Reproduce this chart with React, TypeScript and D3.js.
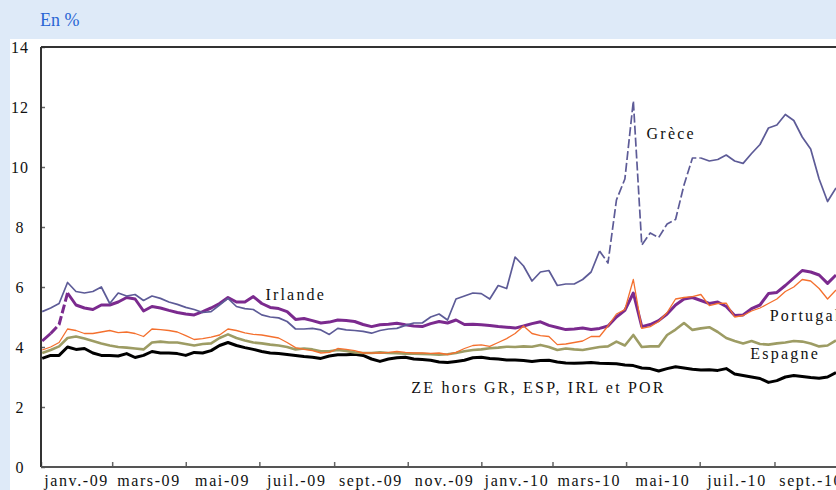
import React, { useEffect, useRef } from 'react';
import * as d3 from 'd3';

// weekly observations, first one on 2 Jan 2009
const START = new Date(2009, 0, 2);
const N_WEEKS = 95;

const grece = [
  5.18, 5.3, 5.45, 6.15, 5.85, 5.8, 5.85, 6.0, 5.45, 5.8,
  5.7, 5.75, 5.55, 5.7, 5.62, 5.5, 5.42, 5.32, 5.25, 5.15,
  5.18, 5.4, 5.62, 5.35, 5.28, 5.25, 5.07, 5.0, 4.97, 4.85,
  4.6, 4.6, 4.62, 4.57, 4.42, 4.62, 4.57, 4.55, 4.52, 4.46,
  4.55, 4.6, 4.62, 4.72, 4.8, 4.8, 5.0, 5.1, 4.9, 5.6,
  5.7, 5.8, 5.78, 5.6, 6.05, 5.95, 7.0, 6.7, 6.2, 6.5,
  6.55, 6.05, 6.1, 6.1, 6.25, 6.5, 7.2, 6.8, 8.9, 9.6,
  12.2, 7.4, 7.8, 7.65, 8.1, 8.25, 9.4, 10.3, 10.3, 10.2,
  10.25, 10.4, 10.2, 10.12, 10.45, 10.75, 11.3, 11.4, 11.75, 11.55,
  11.0, 10.6, 9.6, 8.85, 9.3,
];

const irlande = [
  4.2, 4.45, 4.75, 5.8, 5.4, 5.3, 5.25, 5.4, 5.4, 5.5,
  5.65, 5.6, 5.2, 5.35, 5.3, 5.22, 5.15, 5.1, 5.07, 5.18,
  5.3, 5.45, 5.65, 5.5, 5.5, 5.68, 5.45, 5.32, 5.28, 5.18,
  4.92, 4.95, 4.88, 4.8, 4.83, 4.9, 4.88, 4.85, 4.75, 4.68,
  4.74, 4.76, 4.79, 4.74, 4.7, 4.68, 4.78, 4.85, 4.8, 4.9,
  4.75, 4.76, 4.74, 4.72, 4.68, 4.66, 4.63, 4.7, 4.78, 4.84,
  4.72, 4.65, 4.58, 4.6, 4.63, 4.58, 4.62, 4.7, 5.0, 5.22,
  5.8, 4.68, 4.75, 4.88, 5.1, 5.4, 5.6, 5.65, 5.55, 5.45,
  5.5, 5.35, 5.05, 5.07, 5.28, 5.4, 5.78, 5.82, 6.05, 6.3,
  6.55, 6.5, 6.4, 6.12, 6.4,
];

const portugal = [
  3.9, 4.0, 4.15, 4.6, 4.55, 4.45, 4.45, 4.5, 4.55, 4.48,
  4.5, 4.45, 4.35, 4.6, 4.58, 4.55, 4.5, 4.38, 4.25, 4.28,
  4.33, 4.4, 4.6, 4.55, 4.47, 4.42, 4.4, 4.35, 4.3, 4.15,
  3.98, 3.92, 3.88, 3.8, 3.82, 3.95, 3.92, 3.88, 3.8, 3.8,
  3.8, 3.82, 3.85, 3.82, 3.8, 3.8, 3.79, 3.8, 3.75, 3.82,
  3.95, 4.05, 4.07, 4.02, 4.15, 4.28, 4.45, 4.7, 4.45, 4.38,
  4.35, 4.08, 4.1, 4.15, 4.2, 4.35, 4.35, 4.7, 5.1, 5.25,
  6.25, 4.62, 4.68, 4.85, 5.15, 5.6, 5.65, 5.68, 5.75, 5.38,
  5.45, 5.46, 5.0, 5.05, 5.2, 5.3, 5.45, 5.6, 5.85, 6.0,
  6.25, 6.2, 5.95, 5.6, 5.9,
];

const espagne = [
  3.8, 3.9, 4.02, 4.3, 4.35, 4.28, 4.2, 4.12, 4.05, 4.0,
  3.98, 3.95, 3.92, 4.15, 4.18, 4.15, 4.15, 4.1, 4.05, 4.1,
  4.12, 4.3, 4.42, 4.3, 4.22, 4.15, 4.12, 4.08, 4.05, 4.0,
  3.92, 3.95, 3.92, 3.86, 3.86, 3.9, 3.87, 3.82, 3.8, 3.8,
  3.82, 3.8, 3.79, 3.78, 3.78, 3.77, 3.76, 3.74, 3.76, 3.8,
  3.86, 3.9, 3.92, 3.96, 3.98, 4.01, 4.0, 4.02, 4.01, 4.07,
  4.0, 3.9, 3.95, 3.92, 3.9, 3.95, 4.0, 4.02, 4.18, 4.05,
  4.4, 4.0, 4.02, 4.02, 4.4, 4.58, 4.8, 4.57, 4.62, 4.66,
  4.5, 4.3, 4.2, 4.12, 4.2, 4.1, 4.08, 4.12, 4.15, 4.2,
  4.18, 4.12, 4.02, 4.05, 4.22,
];

const zeHors = [
  3.62, 3.72, 3.72, 4.0, 3.92, 3.95, 3.8, 3.72, 3.72, 3.7,
  3.78, 3.65, 3.72, 3.85, 3.8, 3.8, 3.78, 3.72, 3.82, 3.8,
  3.88, 4.05, 4.15, 4.05, 3.98, 3.92, 3.85, 3.8, 3.78, 3.75,
  3.72, 3.68, 3.66, 3.62, 3.7, 3.74, 3.74, 3.76, 3.72, 3.6,
  3.52, 3.6, 3.64, 3.66, 3.6, 3.58, 3.56, 3.5, 3.48, 3.52,
  3.56, 3.64, 3.66, 3.62, 3.6, 3.57, 3.57, 3.55, 3.52, 3.55,
  3.56, 3.5, 3.47, 3.46, 3.47, 3.48, 3.46, 3.45, 3.44, 3.4,
  3.38, 3.3, 3.28, 3.2, 3.28, 3.34, 3.3, 3.26, 3.23, 3.24,
  3.22, 3.28, 3.1, 3.05, 3.0, 2.95, 2.82, 2.88, 3.0, 3.05,
  3.02, 2.98, 2.96, 3.0, 3.15,
];

const monthLabels = [
  'janv.-09', 'mars-09', 'mai-09', 'juil.-09', 'sept.-09', 'nov.-09',
  'janv.-10', 'mars-10', 'mai-10', 'juil.-10', 'sept.-10',
];
const yTicks = [0, 2, 4, 6, 8, 10, 12, 14];

// drawing order: bottom first
const series = [
  { name: 'ZE hors GR, ESP, IRL et POR', values: zeHors, color: '#000000', width: 3, dash: null },
  { name: 'Espagne', values: espagne, color: '#9d9c64', width: 2.6, dash: null },
  { name: 'Irlande', values: irlande, color: '#7b2a8e', width: 3, dash: [1, 3] },
  { name: 'Portugal', values: portugal, color: '#f4702e', width: 1.3, dash: null },
  { name: 'Grèce', values: grece, color: '#5d5b97', width: 1.7, dash: [66, 78] },
];

const labels = [
  { text: 'Grèce', date: new Date(2010, 4, 18), value: 10.95 },
  { text: 'Irlande', date: new Date(2009, 6, 6), value: 5.58 },
  { text: 'Portugal', date: new Date(2010, 7, 28), value: 4.87 },
  { text: 'Espagne', date: new Date(2010, 7, 12), value: 3.6 },
  { text: 'ZE hors GR, ESP, IRL et POR', date: new Date(2009, 10, 4), value: 2.47 },
];

const W = 836;
const H = 490;
const SERIF = '"Liberation Serif", "DejaVu Serif", serif';

export default function App() {
  const svgRef = useRef<SVGSVGElement | null>(null);

  useEffect(() => {
    const svg = d3.select(svgRef.current);
    svg.selectAll('*').remove();

    const left = 41, right = 836, top = 47, bottom = 467;
    const dates = d3.range(N_WEEKS).map((i) => d3.timeDay.offset(START, 7 * i));

    const x = d3.scaleTime()
      .domain([new Date(2009, 0, 1), new Date(2010, 9, 22)])
      .range([left, right]);
    const y = d3.scaleLinear().domain([0, 14]).range([bottom, top]);

    // background
    svg.append('rect').attr('width', W).attr('height', H).attr('fill', '#deeaf8');
    svg.append('rect').attr('x', 10).attr('y', 39).attr('width', W - 10).attr('height', H - 39).attr('fill', '#ffffff');

    svg.append('text')
      .attr('x', 40).attr('y', 26)
      .attr('fill', '#2a66d4')
      .attr('font-family', SERIF)
      .attr('font-size', 18)
      .text('En %');

    svg.append('defs').append('clipPath').attr('id', 'plot-clip')
      .append('rect').attr('x', left).attr('y', top - 10).attr('width', right - left).attr('height', bottom - top + 10);

    // y axis
    const yAxis = svg.append('g')
      .attr('transform', `translate(${left},0)`)
      .call(d3.axisRight(y).tickValues(yTicks).tickSize(4).tickFormat(() => ''));
    yAxis.select('.domain').remove();
    yAxis.selectAll('line').attr('stroke', '#666').attr('stroke-width', 1.5);

    svg.append('g').selectAll('text')
      .data(yTicks)
      .join('text')
      .attr('x', 20)
      .attr('y', (d) => y(d))
      .attr('dy', '0.35em')
      .attr('text-anchor', 'middle')
      .attr('font-family', SERIF)
      .attr('font-size', 16)
      .attr('letter-spacing', 1)
      .attr('fill', '#111')
      .text((d) => d);

    // x axis
    const monthTicks = d3.timeMonth.every(2)!.range(new Date(2009, 0, 1), new Date(2010, 10, 2));
    const xAxis = svg.append('g')
      .attr('transform', `translate(0,${bottom})`)
      .call(d3.axisTop(x).tickValues(monthTicks.slice(0, 11)).tickSize(5).tickFormat(() => ''));
    xAxis.select('.domain').remove();
    xAxis.selectAll('line').attr('stroke', '#666').attr('stroke-width', 1.5);

    svg.append('g').selectAll('text')
      .data(monthLabels)
      .join('text')
      .attr('x', (_d, i) => (x(monthTicks[i]) + x(monthTicks[i + 1])) / 2)
      .attr('y', 486)
      .attr('text-anchor', 'middle')
      .attr('font-family', SERIF)
      .attr('font-size', 16)
      .attr('letter-spacing', 1.6)
      .attr('fill', '#111')
      .text((d) => d);

    // frame lines
    svg.append('line').attr('x1', left).attr('x2', right).attr('y1', top).attr('y2', top)
      .attr('stroke', '#333').attr('stroke-width', 2);
    svg.append('line').attr('x1', left).attr('x2', left).attr('y1', top).attr('y2', bottom)
      .attr('stroke', '#333').attr('stroke-width', 2);
    svg.append('line').attr('x1', left).attr('x2', right).attr('y1', bottom).attr('y2', bottom)
      .attr('stroke', '#555').attr('stroke-width', 2);

    const line = d3.line<[Date, number]>()
      .x((d) => x(d[0]))
      .y((d) => y(d[1]));

    const g = svg.append('g').attr('clip-path', 'url(#plot-clip)');

    series.forEach((s) => {
      const pts: [Date, number][] = s.values.map((v, i) => [dates[i], v]);
      const pieces = s.dash
        ? [
            { pts: pts.slice(0, s.dash[0] + 1), dashed: false },
            { pts: pts.slice(s.dash[0], s.dash[1] + 1), dashed: true },
            { pts: pts.slice(s.dash[1]), dashed: false },
          ]
        : [{ pts, dashed: false }];
      pieces.forEach((p) => {
        g.append('path')
          .attr('d', line(p.pts))
          .attr('fill', 'none')
          .attr('stroke', s.color)
          .attr('stroke-width', s.width)
          .attr('stroke-linejoin', 'round')
          .attr('stroke-dasharray', p.dashed ? '9,3' : null);
      });
    });

    svg.append('g').selectAll('text')
      .data(labels)
      .join('text')
      .attr('x', (d) => x(d.date))
      .attr('y', (d) => y(d.value))
      .attr('font-family', SERIF)
      .attr('font-size', 16)
      .attr('letter-spacing', 2.2)
      .attr('fill', '#111')
      .text((d) => d.text);
  }, []);

  return (
    <svg
      ref={svgRef}
      width={W}
      height={H}
      style={{ position: 'absolute', left: 0, top: 0, display: 'block' }}
    />
  );
}
